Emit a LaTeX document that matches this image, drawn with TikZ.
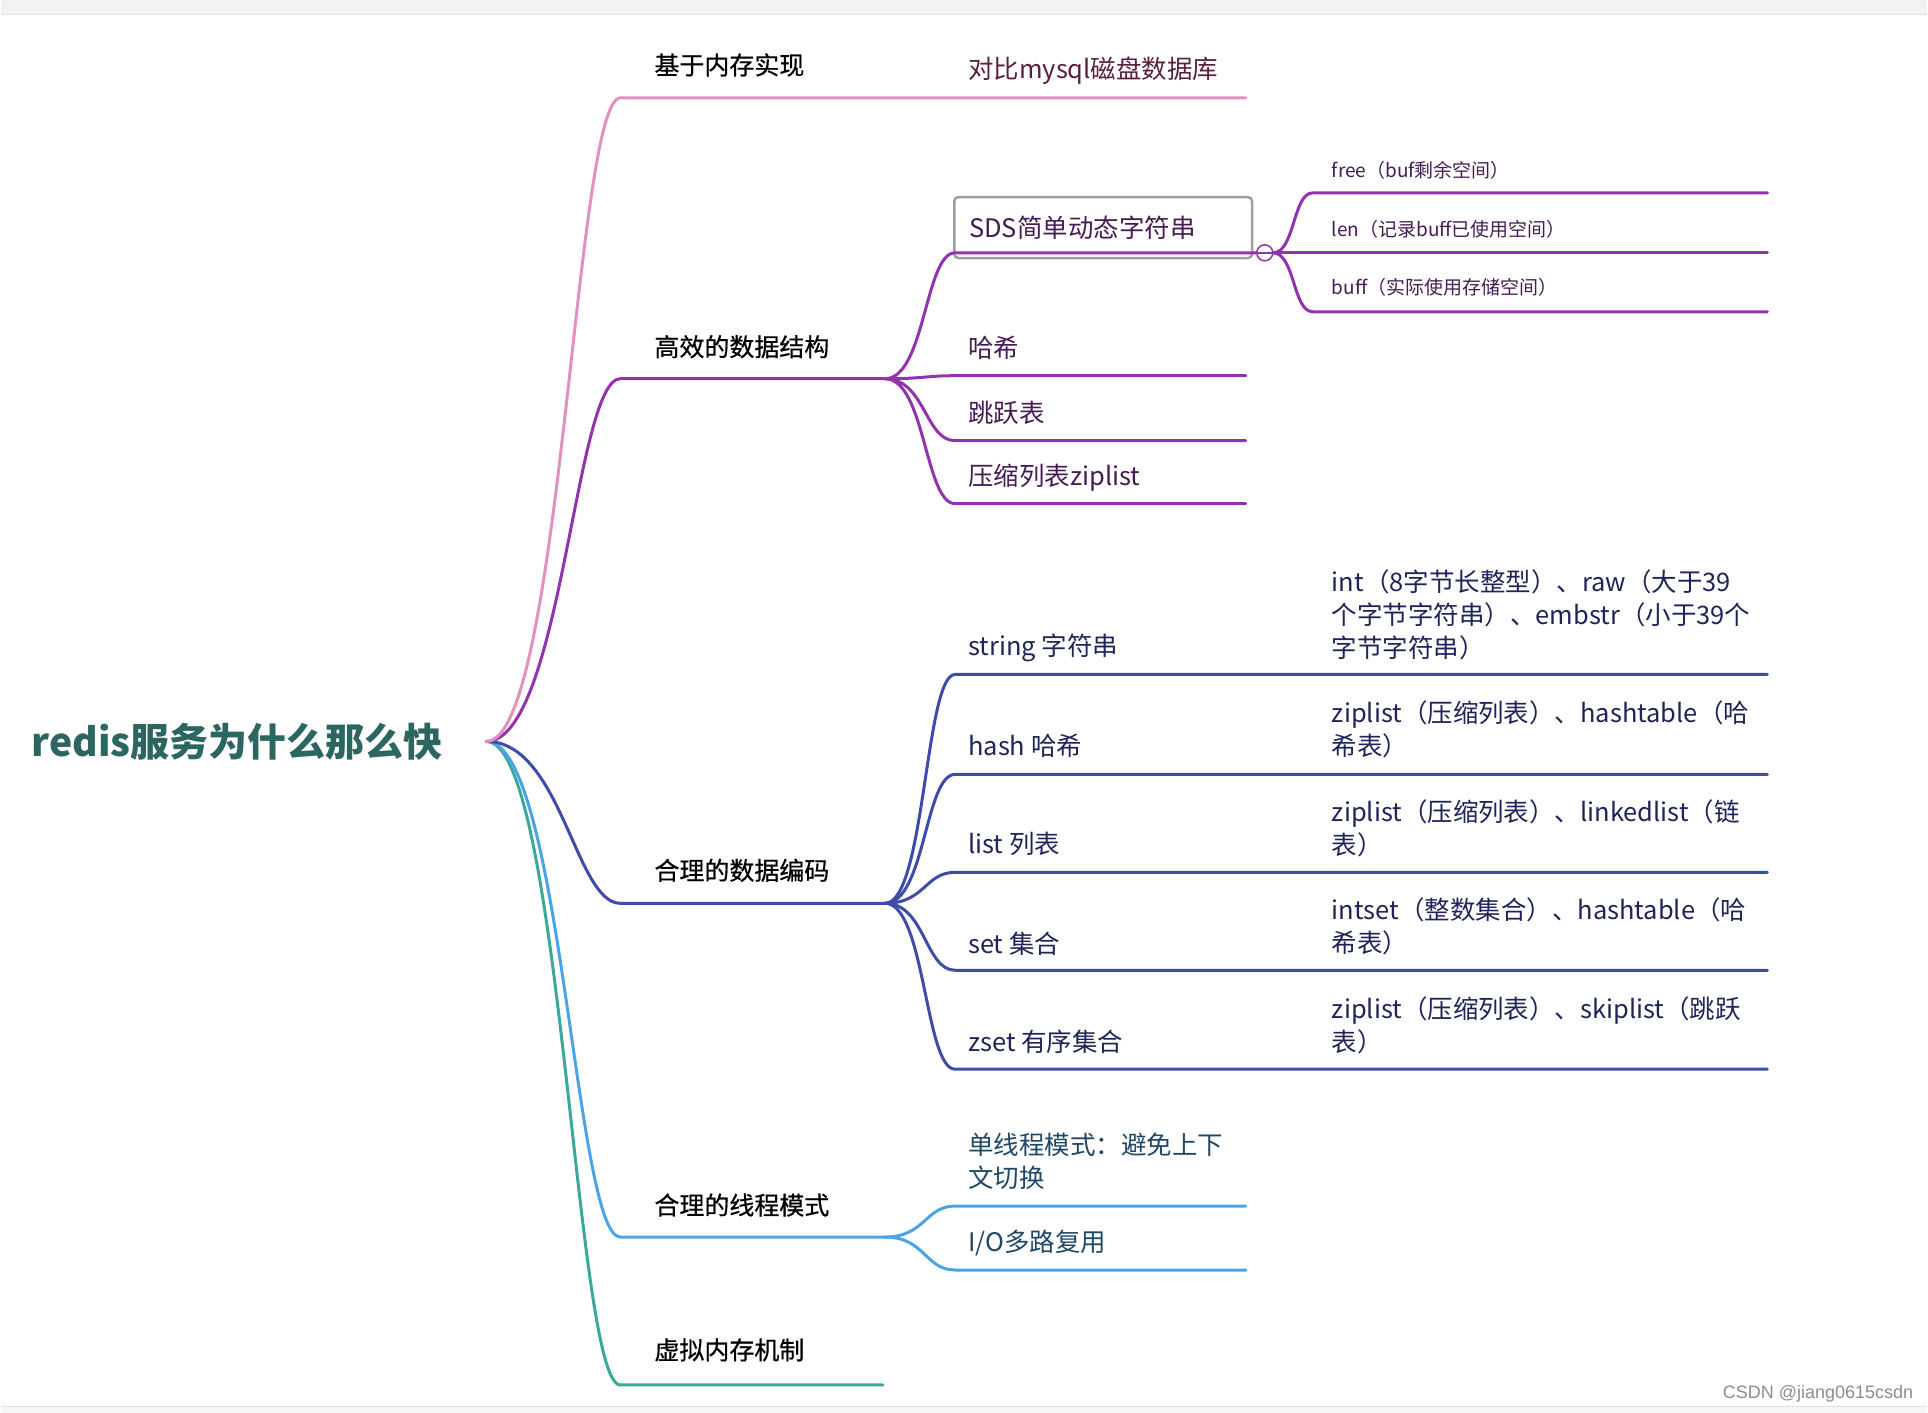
\documentclass[tikz,border=0pt]{standalone}
\usepackage{fontspec}
\setmainfont{Noto Sans CJK SC}
\newfontfamily\topicfont[FakeBold=0.6]{Noto Sans CJK SC}
\newfontfamily\wmfont{Liberation Sans}
\usepackage{xcolor}
\usepackage{tikz}
\usetikzlibrary{positioning}

\definecolor{rootc}{HTML}{2B6661}
\definecolor{pinkc}{HTML}{E291BF}
\definecolor{purpc}{HTML}{9432AE}
\definecolor{indic}{HTML}{3D4BAA}
\definecolor{bluec}{HTML}{4AA3E6}
\definecolor{tealc}{HTML}{3AA89B}
\definecolor{pinkt}{HTML}{5A1F40}
\definecolor{purpt}{HTML}{461A55}
\definecolor{indit}{HTML}{1E2459}
\definecolor{bluet}{HTML}{1F4766}

\begin{document}
\begin{tikzpicture}[
        x=1pt, y=-1pt,
        every node/.style={inner sep=0pt, anchor=west},
        topic/.style={font=\topicfont\fontsize{25}{33}\selectfont, text=black},
        sub/.style={font=\fontsize{25.5}{33}\selectfont, align=left},
        small/.style={font=\fontsize{19}{22}\selectfont, text=purpt},
        branch/.style={line width=3pt, line cap=round}
    ]
        % page frame
        \fill[black!5] (0,0) rectangle (1928,14);
        \draw[black!12, line width=1.5pt] (0,14.5) -- (1928,14.5);
        \fill[black!3] (0,1408) rectangle (1928,1414);
        \draw[black!12, line width=1pt] (0,1408) -- (1928,1408);
        \useasboundingbox (0,0) rectangle (1928,1414);

        \node[font=\fontsize{39}{44}\selectfont\bfseries, text=rootc] (root) at (31,742) {redis服务为什么那么快};
        \coordinate (fork) at (486,742);

        % level 1 ends
        \coordinate (memA) at (620,98);   \coordinate (memB) at (1246,98);
        \coordinate (dsA) at (620,379);   \coordinate (dsB) at (885,379);
        \coordinate (encA) at (620,904);  \coordinate (encB) at (885,904);
        \coordinate (thrA) at (620,1238); \coordinate (thrB) at (885,1238);
        \coordinate (vmA) at (620,1386);  \coordinate (vmB) at (883,1386);

        \draw[branch, tealc] (fork) .. controls +(75,0) and +(-45,0) .. (vmA) -- (vmB);
        \draw[branch, bluec] (fork) .. controls +(75,0) and +(-45,0) .. (thrA) -- (thrB);
        \draw[branch, indic] (fork) .. controls +(75,0) and +(-45,0) .. (encA) -- (encB);
        \draw[branch, purpc] (fork) .. controls +(75,0) and +(-45,0) .. (dsA) -- (dsB);
        \draw[branch, pinkc] (fork) .. controls +(75,0) and +(-45,0) .. (memA) -- (memB);

        \node[topic] (mem) at (654,65) {基于内存实现};
        \node[topic] (ds) at (654,347) {高效的数据结构};
        \node[topic] (enc) at (654,871) {合理的数据编码};
        \node[topic] (thr) at (654,1206) {合理的线程模式};
        \node[topic] (vm) at (654,1351) {虚拟内存机制};

        \node[sub, text=pinkt] (mysql) at (968,71) {对比mysql磁盘数据库};

        % data structures
        \node[sub, draw=black!38, line width=2.5pt, rounded corners=4pt, anchor=north west,
              text width=268pt, inner xsep=15pt, minimum height=61pt, text=purpt] (sds) at (953,196) {SDS简单动态字符串};
        \coordinate (sdsA) at (955,253);
        \coordinate (hashA) at (955,376);  \coordinate (hashB) at (1246,376);
        \coordinate (skipA) at (955,441);  \coordinate (skipB) at (1246,441);
        \coordinate (zipA) at (955,504);   \coordinate (zipB) at (1246,504);
        \node[circle, anchor=center, minimum size=16pt] (knob) at (1265,253) {};
        \draw[branch, purpc] (dsB) .. controls +(40,0) and +(-30,0) .. (sdsA) -- (knob.west);
        \draw[branch, purpc] (dsB) .. controls +(40,0) and +(-30,0) .. (hashA) -- (hashB);
        \draw[branch, purpc] (dsB) .. controls +(40,0) and +(-30,0) .. (skipA) -- (skipB);
        \draw[branch, purpc] (dsB) .. controls +(40,0) and +(-30,0) .. (zipA) -- (zipB);
        \node[sub, text=purpt] (hash) at (968,348) {哈希};
        \node[sub, text=purpt] (skip) at (968,413) {跳跃表};
        \node[sub, text=purpt] (zip) at (968,478) {压缩列表ziplist};

        \coordinate (freeA) at (1313,193); \coordinate (freeB) at (1768,193);
        \coordinate (lenB) at (1768,253);
        \coordinate (buffA) at (1313,312); \coordinate (buffB) at (1768,312);
        \draw[branch, purpc] (knob.east) .. controls +(22,0) and +(-20,0) .. (freeA) -- (freeB);
        \draw[branch, purpc] (knob.east) -- (lenB);
        \draw[branch, purpc] (knob.east) .. controls +(22,0) and +(-20,0) .. (buffA) -- (buffB);
        \draw[purpc, line width=1.5pt, fill=white] (knob) circle (8pt);
        \draw[purpc, line width=1.5pt] (knob.west) -- (knob.east);
        \node[small] (free) at (1332,170) {free（buf剩余空间）};
        \node[small] (len) at (1332,229) {len（记录buff已使用空间）};
        \node[small] (buff) at (1332,288) {buff（实际使用存储空间）};

        % encodings
        \coordinate (strA) at (955,675);  \coordinate (strB) at (1768,675);
        \coordinate (hshA) at (955,775);  \coordinate (hshB) at (1768,775);
        \coordinate (lstA) at (955,873);  \coordinate (lstB) at (1768,873);
        \coordinate (setA) at (955,971);  \coordinate (setB) at (1768,971);
        \coordinate (zsetA) at (955,1070); \coordinate (zsetB) at (1768,1070);
        \draw[branch, indic] (encB) .. controls +(40,0) and +(-30,0) .. (strA) -- (strB);
        \draw[branch, indic] (encB) .. controls +(40,0) and +(-30,0) .. (hshA) -- (hshB);
        \draw[branch, indic] (encB) .. controls +(40,0) and +(-30,0) .. (lstA) -- (lstB);
        \draw[branch, indic] (encB) .. controls +(40,0) and +(-30,0) .. (setA) -- (setB);
        \draw[branch, indic] (encB) .. controls +(40,0) and +(-30,0) .. (zsetA) -- (zsetB);
        \node[sub, text=indit] (str) at (968,648) {string 字符串};
        \node[sub, text=indit] (hsh) at (968,746) {hash 哈希};
        \node[sub, text=indit] (lst) at (968,845) {list 列表};
        \node[sub, text=indit] (set) at (968,944) {set 集合};
        \node[sub, text=indit] (zset) at (968,1043) {zset 有序集合};
        \node[sub, text=indit] (strV) at (1332,615) {int（8字节长整型）、raw（大于39\\个字节字符串）、embstr（小于39个\\字节字符串）};
        \node[sub, text=indit] (hshV) at (1332,730) {ziplist（压缩列表）、hashtable（哈\\希表）};
        \node[sub, text=indit] (lstV) at (1332,829) {ziplist（压缩列表）、linkedlist（链\\表）};
        \node[sub, text=indit] (setV) at (1332,927) {intset（整数集合）、hashtable（哈\\希表）};
        \node[sub, text=indit] (zsetV) at (1332,1026) {ziplist（压缩列表）、skiplist（跳跃\\表）};

        % threads
        \coordinate (oneA) at (955,1207); \coordinate (oneB) at (1246,1207);
        \coordinate (ioA) at (955,1271);  \coordinate (ioB) at (1246,1271);
        \draw[branch, bluec] (thrB) .. controls +(40,0) and +(-30,0) .. (oneA) -- (oneB);
        \draw[branch, bluec] (thrB) .. controls +(40,0) and +(-30,0) .. (ioA) -- (ioB);
        \node[sub, text=bluet] (one) at (968,1162) {单线程模式：避免上下\\文切换};
        \node[sub, text=bluet] (io) at (968,1244) {I/O多路复用};

        \node[font=\wmfont\fontsize{18}{20}\selectfont, text=black!45, anchor=east] (wm) at (1914,1395) {CSDN @jiang0615csdn};

    \end{tikzpicture}
\end{document}
